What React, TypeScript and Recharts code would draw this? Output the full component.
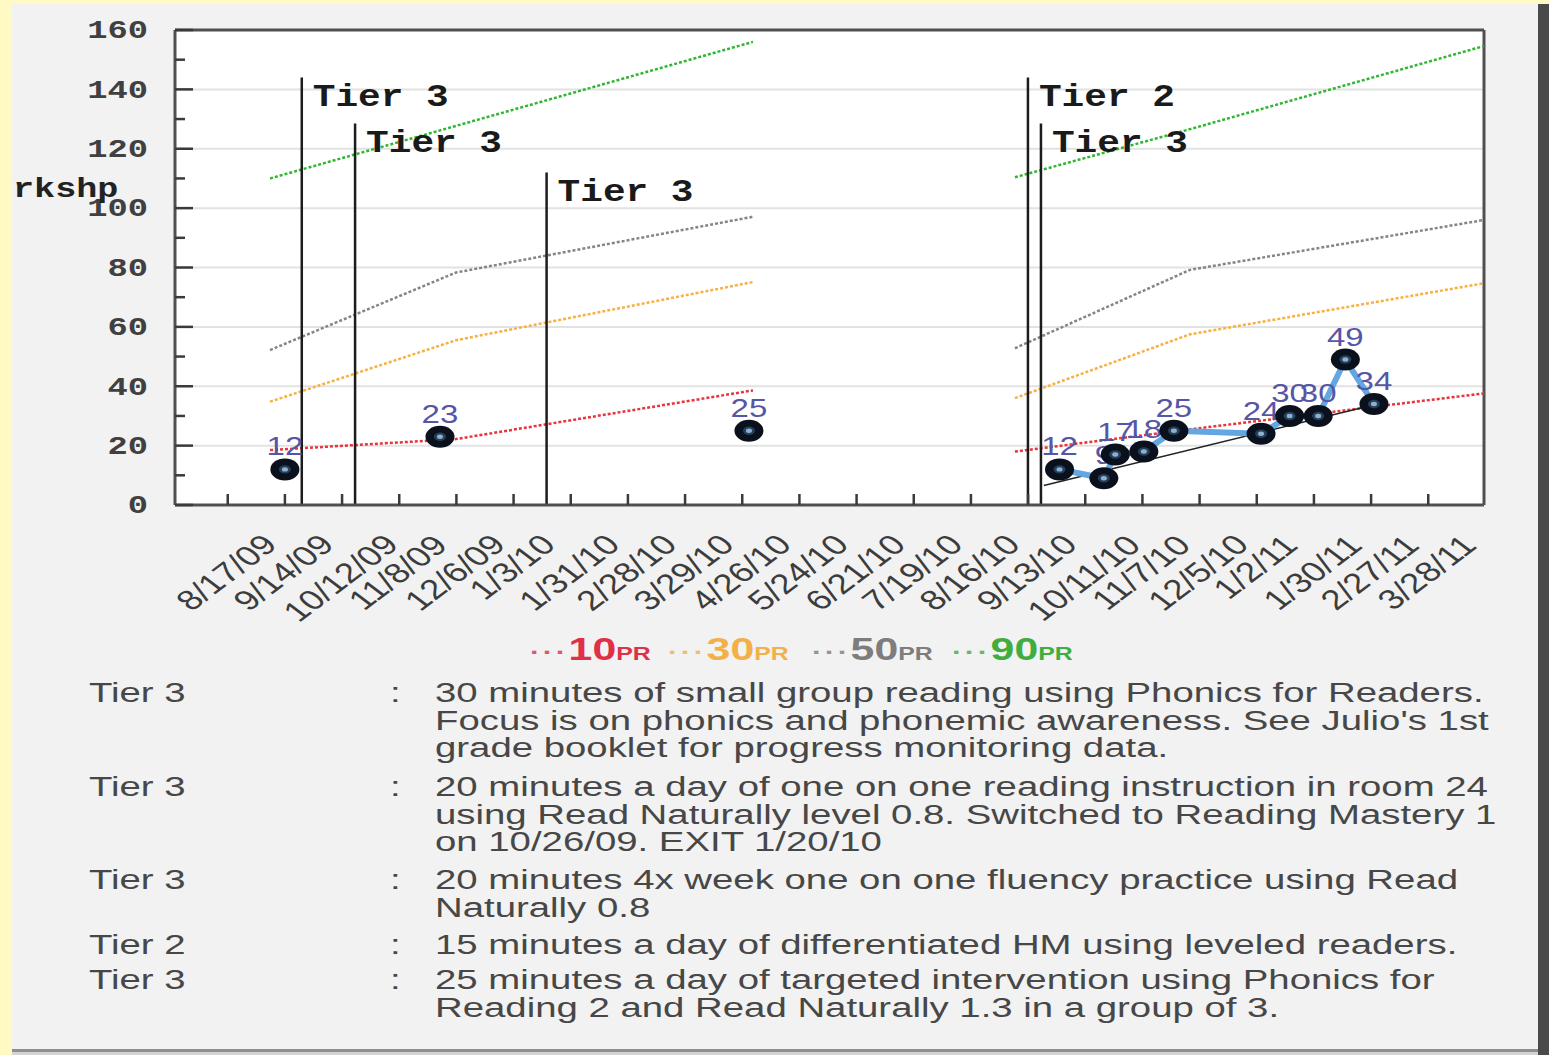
import React from "react";
import {
  ComposedChart,
  Line,
  XAxis,
  YAxis,
  CartesianGrid,
  ReferenceLine,
} from "recharts";

// x values are weeks counted from 8/17/09
const xTickWeeks = [0, 4, 8, 12, 16, 20, 24, 28, 32, 36, 40, 44, 48, 52, 56, 60, 64, 68, 72, 76, 80, 84];
const xTickLabels = [
  "8/17/09", "9/14/09", "10/12/09", "11/8/09", "12/6/09", "1/3/10", "1/31/10", "2/28/10",
  "3/29/10", "4/26/10", "5/24/10", "6/21/10", "7/19/10", "8/16/10", "9/13/10", "10/11/10",
  "11/7/10", "12/5/10", "1/2/11", "1/30/11", "2/27/11", "3/28/11",
];
const yTicks = [0, 10, 20, 30, 40, 50, 60, 70, 80, 90, 100, 110, 120, 130, 140, 150, 160];
const gridValues = [20, 40, 60, 80, 100, 120, 140];

// percentile norms, first school year and second school year
const normWeeks1 = [2.96, 15.97, 36.75];
const normWeeks2 = [55.08, 67.33, 87.9];
const pr10a = [18.5, 22.2, 38.6];
const pr10b = [18, 25.5, 37.6];
const pr30a = [34.8, 55.5, 75.1];
const pr30b = [36, 57.5, 74.7];
const pr50a = [52.2, 78.3, 97.1];
const pr50b = [52.8, 79.2, 96];
const pr90a = [110, 127.7, 156];
const pr90b = [110.4, 126.6, 154.6];

const scoreWeeks1 = [4.0, 14.85, 36.47];
const scores1 = [12, 23, 25];
const scoreWeeks2 = [58.2, 61.3, 62.1, 64.1, 66.2, 72.3, 74.3, 76.3, 78.2, 80.2];
const scores2 = [12, 9, 17, 18, 25, 24, 30, 30, 49, 34];

const trendWeeks = [57.1, 79.5];
const trendValues = [6.6, 32.9];

const tierWeeks = [5.18, 8.91, 22.31, 55.99, 56.9];
const tierTops = [144, 128.5, 112, 144, 128.5];
const tierNames = ["Tier 3", "Tier 3", "Tier 3", "Tier 2", "Tier 3"];

const legendNames = ["10", "30", "50", "90"];

const noteTiers = ["Tier 3", "Tier 3", "Tier 3", "Tier 2", "Tier 3"];
const noteLines = [
  [
    "30 minutes of small group reading using Phonics for Readers.",
    "Focus is on phonics and phonemic awareness. See Julio's 1st",
    "grade booklet for progress monitoring data.",
  ],
  [
    "20 minutes a day of one on one reading instruction in room 24",
    "using Read Naturally level 0.8. Switched to Reading Mastery 1",
    "on 10/26/09. EXIT 1/20/10",
  ],
  [
    "20 minutes 4x week one on one fluency practice using Read",
    "Naturally 0.8",
  ],
  ["15 minutes a day of differentiated HM using leveled readers."],
  [
    "25 minutes a day of targeted intervention using Phonics for",
    "Reading 2 and Read Naturally 1.3 in a group of 3.",
  ],
];

const PR_COLORS = ["#e8343a", "#f8b040", "#858585", "#2fb82f"];
const LEGEND_COLORS = ["#e03048", "#f3b048", "#7d7d7d", "#3fae3f"];
const PLOT_LEFT = 175;
const PLOT_BOTTOM = 505;
const MONO = "'Liberation Mono', 'Courier New', monospace";
const SANS = "'Liberation Sans', Arial, sans-serif";
const NOTE_BASELINES = [703, 797, 890, 955, 990];

const toRows = (xs: number[], ys: number[]) => xs.map((w, i) => ({ week: w, value: ys[i] }));

const normSets = [
  [pr10a, pr10b],
  [pr30a, pr30b],
  [pr50a, pr50b],
  [pr90a, pr90b],
];

const DateTick = (props: any) => {
  const { x, payload } = props;
  const idx = xTickWeeks.indexOf(payload.value);
  const label = xTickLabels[idx] ?? "";
  const fs = 28;
  let len = 0;
  for (const ch of label) len += ch === "/" ? 0.278 : 0.556;
  len *= fs;
  const boxH = (len + 0.716 * fs) * 0.707;
  const cy = 532 + boxH / 2;
  return (
    <g>
      <line x1={x} x2={x} y1={PLOT_BOTTOM} y2={PLOT_BOTTOM - 11} stroke="#3a3a3a" strokeWidth={2.5} />
      <g transform={`translate(${x - 2},${cy}) scale(1.32,1) rotate(-45)`}>
        <text x={0} y={0} dy="0.36em" textAnchor="middle" fontFamily={SANS} fontSize={fs} fill="#3c3c3c">
          {label}
        </text>
      </g>
    </g>
  );
};

const ValueTick = (props: any) => {
  const { y, payload } = props;
  const v = payload.value;
  const major = v % 20 === 0;
  return (
    <g>
      <line x1={PLOT_LEFT} x2={PLOT_LEFT + (major ? 18 : 10)} y1={y} y2={y} stroke="#3a3a3a" strokeWidth={2.5} />
      {major && (
        <text
          transform={`translate(148,${y}) scale(1.3,1)`}
          x={0}
          y={0}
          dy="0.32em"
          textAnchor="end"
          fontFamily={MONO}
          fontWeight="bold"
          fontSize={26}
          fill="#404040"
        >
          {v}
        </text>
      )}
    </g>
  );
};

const ScoreDot = (props: any) => {
  const { cx, cy, payload } = props;
  if (cx == null || cy == null) return null;
  return (
    <g>
      <text
        transform={`translate(${cx},${cy - 14}) scale(1.32,1)`}
        x={0}
        y={0}
        textAnchor="middle"
        fontFamily={SANS}
        fontSize={25}
        fill="#5656a6"
      >
        {payload.value}
      </text>
      <ellipse cx={cx} cy={cy} rx={14.5} ry={11} fill="#0a111d" />
      <ellipse cx={cx} cy={cy} rx={6} ry={4.2} fill="#24405c" />
      <ellipse cx={cx} cy={cy} rx={3} ry={2.2} fill="#8fb0cc" />
    </g>
  );
};

const TierLabel = ({ viewBox, text }: any) => {
  const vb = viewBox || {};
  return (
    <text
      transform={`translate(${(vb.x ?? 0) + 11},${(vb.y ?? 0) + 28}) scale(1.18,1)`}
      x={0}
      y={0}
      fontFamily={MONO}
      fontWeight="bold"
      fontSize={32}
      fill="#1a1a1a"
    >
      {text}
    </text>
  );
};

export default function App() {
  return (
    <div style={{ position: "absolute", left: 0, top: 0, width: 1549, height: 1055, background: "#fff9c4", overflow: "hidden" }}>
      <div style={{ position: "absolute", left: 12, top: 4, width: 1526, height: 1046, background: "#f2f2f2" }} />
      <div style={{ position: "absolute", left: 1538, top: 4, width: 11, height: 1051, background: "#4a4a4a" }} />
      <div style={{ position: "absolute", left: 12, top: 1049, width: 1526, height: 3, background: "#8e8e8e" }} />
      <div style={{ position: "absolute", left: 12, top: 1052, width: 1526, height: 3, background: "#d4d4d4" }} />

      <div style={{ position: "absolute", left: 0, top: 0 }}>
        <ComposedChart width={1549} height={660} margin={{ top: 30, right: 65, bottom: 0, left: 0 }}>
          <CartesianGrid vertical={false} horizontalValues={gridValues} stroke="#e2e2e2" strokeWidth={2} fill="#ffffff" />
          <XAxis
            type="number"
            dataKey="week"
            domain={[-3.69, 87.9]}
            allowDataOverflow
            ticks={xTickWeeks}
            interval={0}
            height={155}
            tickLine={false}
            tickSize={0}
            axisLine={{ stroke: "#505050", strokeWidth: 3 }}
            tick={(p: any) => <DateTick {...p} />}
          />
          <YAxis
            type="number"
            domain={[0, 160]}
            allowDataOverflow
            ticks={yTicks}
            interval={0}
            width={175}
            tickLine={false}
            tickSize={0}
            axisLine={{ stroke: "#505050", strokeWidth: 3 }}
            tick={(p: any) => <ValueTick {...p} />}
          />
          <ReferenceLine y={160} stroke="#505050" strokeWidth={3} />
          <ReferenceLine x={87.9} stroke="#505050" strokeWidth={3} />

          {normSets.map(([first, second], i) => [
            <Line
              key={`pr-a-${i}`}
              data={toRows(normWeeks1, first)}
              dataKey="value"
              stroke={PR_COLORS[i]}
              strokeWidth={2.5}
              strokeDasharray="3 2"
              dot={false}
              activeDot={false}
              isAnimationActive={false}
            />,
            <Line
              key={`pr-b-${i}`}
              data={toRows(normWeeks2, second)}
              dataKey="value"
              stroke={PR_COLORS[i]}
              strokeWidth={2.5}
              strokeDasharray="3 2"
              dot={false}
              activeDot={false}
              isAnimationActive={false}
            />,
          ])}

          {tierWeeks.map((w, i) => (
            <ReferenceLine
              key={`tier-${i}`}
              segment={[{ x: w, y: 0 }, { x: w, y: tierTops[i] }]}
              stroke="#1c1c1c"
              strokeWidth={2.5}
              label={(p: any) => <TierLabel viewBox={p.viewBox} text={tierNames[i]} />}
            />
          ))}

          <Line
            data={toRows(trendWeeks, trendValues)}
            dataKey="value"
            stroke="#222"
            strokeWidth={1.5}
            dot={false}
            activeDot={false}
            isAnimationActive={false}
          />
          <Line
            data={toRows(scoreWeeks2, scores2)}
            dataKey="value"
            stroke="#62a6e2"
            strokeWidth={6}
            dot={(p: any) => <ScoreDot key={`s2-${p.index}`} {...p} />}
            activeDot={false}
            isAnimationActive={false}
          />
          <Line
            data={toRows(scoreWeeks1, scores1)}
            dataKey="value"
            stroke="none"
            dot={(p: any) => <ScoreDot key={`s1-${p.index}`} {...p} />}
            activeDot={false}
            isAnimationActive={false}
          />
        </ComposedChart>
      </div>

      <div
        style={{
          position: "absolute",
          left: 13,
          top: 199 - 22,
          fontFamily: MONO,
          fontWeight: "bold",
          fontSize: 27,
          lineHeight: "27px",
          color: "#222",
          transform: "scaleX(1.3)",
          transformOrigin: "left",
          whiteSpace: "nowrap",
        }}
      >
        rkshp
      </div>

      {legendNames.map((n, i) => (
        <div
          key={`lg-${i}`}
          style={{
            position: "absolute",
            left: [530, 668, 812, 952][i],
            top: 635,
            fontFamily: SANS,
            fontWeight: "bold",
            color: LEGEND_COLORS[i],
            transform: "scaleX(1.38)",
            transformOrigin: "left",
            whiteSpace: "nowrap",
            lineHeight: "30px",
          }}
        >
          <span style={{ fontSize: 22, letterSpacing: 2, opacity: 0.8 }}>···</span>
          <span style={{ fontSize: 31 }}>{n}</span>
          <span style={{ fontSize: 18 }}>PR</span>
        </div>
      ))}

      {noteLines.map((lines, r) => (
        <React.Fragment key={`note-${r}`}>
          <div style={noteStyle(89, NOTE_BASELINES[r])}>{noteTiers[r]}</div>
          <div style={noteStyle(390, NOTE_BASELINES[r])}>:</div>
          {lines.map((t, k) => (
            <div key={`nl-${r}-${k}`} style={noteStyle(435, NOTE_BASELINES[r] + k * 27.5)}>
              {t}
            </div>
          ))}
        </React.Fragment>
      ))}
    </div>
  );
}

function noteStyle(left: number, baseline: number): React.CSSProperties {
  return {
    position: "absolute",
    left,
    top: baseline - 22.85,
    fontFamily: SANS,
    fontSize: 27,
    lineHeight: "27px",
    color: "#474747",
    transform: "scaleX(1.42)",
    transformOrigin: "left",
    whiteSpace: "nowrap",
  };
}
